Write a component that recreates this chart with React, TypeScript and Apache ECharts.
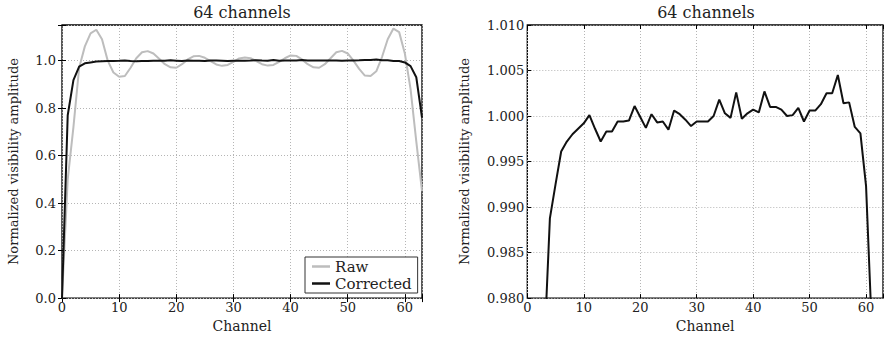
import React, { useEffect, useRef } from "react";
import * as echarts from "echarts";

const channels = [
  0, 1, 2, 3, 4, 5, 6, 7, 8, 9, 10, 11, 12, 13, 14, 15, 16, 17, 18, 19, 20, 21,
  22, 23, 24, 25, 26, 27, 28, 29, 30, 31, 32, 33, 34, 35, 36, 37, 38, 39, 40,
  41, 42, 43, 44, 45, 46, 47, 48, 49, 50, 51, 52, 53, 54, 55, 56, 57, 58, 59,
  60, 61, 62, 63,
];

const rawAmp = [
  0.0, 0.5, 0.72, 0.97, 1.06, 1.115, 1.13, 1.09, 1.0, 0.95, 0.932, 0.935, 0.97,
  1.01, 1.035, 1.04, 1.03, 1.008, 0.985, 0.972, 0.97, 0.985, 1.005, 1.018, 1.02,
  1.012, 0.998, 0.984, 0.978, 0.982, 0.995, 1.009, 1.013, 1.01, 0.998, 0.985,
  0.979, 0.982, 0.995, 1.01, 1.022, 1.02, 1.005, 0.985, 0.972, 0.97, 0.985, 1.01,
  1.035, 1.041, 1.03, 1.0, 0.965, 0.937, 0.935, 0.955, 1.015, 1.09, 1.135, 1.12,
  1.03, 0.88, 0.66, 0.45,
];

const correctedAmp = [
  0.0, 0.77, 0.918, 0.9744, 0.98875, 0.9925, 0.9961, 0.9972, 0.998, 0.9986,
  0.9992, 1.0001, 0.9986, 0.9972, 0.9983, 0.9983, 0.9994, 0.9994, 0.9995,
  1.0011, 0.9999, 0.9987, 1.0002, 0.9993, 0.9994, 0.9985, 1.0006, 1.0002,
  0.9996, 0.9989, 0.9994, 0.9994, 0.9994, 1.0, 1.0018, 1.0003, 0.9998, 1.0026,
  0.9997, 1.0003, 1.0007, 1.0004, 1.0027, 1.001, 1.001, 1.0007, 1.0, 1.0001,
  1.0009, 0.9994, 1.0006, 1.0006, 1.0013, 1.0025, 1.0025, 1.0045, 1.0014,
  1.0015, 0.9988, 0.9981, 0.9923, 0.9769, 0.93, 0.76,
];

const titleText = "64 channels";
const xName = "Channel";
const yName = "Normalized visibility amplitude";
const seriesNames = ["Raw", "Corrected"];

const FONT = "DejaVu Serif";
const TXT = "#222";

const pairs = (ys: number[]) => channels.map((c, i) => [c, ys[i]]);

const splitLine = {
  show: true,
  lineStyle: { color: "#b5b5b5", type: [1, 2], width: 1 },
};
const tick = { show: true, inside: true, length: 4, lineStyle: { color: "#000", width: 1 } };

function bottomX(gridIndex: number) {
  return {
    type: "value",
    gridIndex,
    min: 0,
    max: 63,
    interval: 10,
    name: xName,
    nameLocation: "middle",
    nameGap: 20,
    nameTextStyle: { fontFamily: FONT, fontSize: 14, color: TXT },
    axisLine: { show: false },
    axisTick: tick,
    axisLabel: {
      fontFamily: FONT,
      fontSize: 13,
      color: TXT,
      margin: 3,
      formatter: (v: number) => (v % 10 === 0 ? String(v) : ""),
    },
    splitLine,
  };
}
function topX(gridIndex: number) {
  return {
    type: "value",
    gridIndex,
    position: "top",
    min: 0,
    max: 63,
    interval: 10,
    axisLine: { show: false },
    axisTick: tick,
    axisLabel: { show: false },
    splitLine: { show: false },
  };
}

export default function App() {
  const ref = useRef<HTMLDivElement>(null);
  useEffect(() => {
    if (!ref.current) return;
    const chart = echarts.init(ref.current, undefined, { renderer: "svg" });
    const option = {
      animation: false,
      backgroundColor: "#fff",
      textStyle: { fontFamily: FONT },
      grid: [
        { left: 62, top: 25, width: 360, height: 274.3, show: true, borderColor: "#000", borderWidth: 1.3 },
        { left: 527.3, top: 25, width: 360.4, height: 274.3, show: true, borderColor: "#000", borderWidth: 1.3 },
      ],
      graphic: [
        {
          type: "text",
          x: 242,
          y: 4,
          style: { text: titleText, align: "center", verticalAlign: "top", fontFamily: FONT, fontSize: 16, fill: TXT },
        },
        {
          type: "text",
          x: 706,
          y: 4,
          style: { text: titleText, align: "center", verticalAlign: "top", fontFamily: FONT, fontSize: 16, fill: TXT },
        },
      ],
      legend: {
        data: seriesNames,
        orient: "vertical",
        left: 305,
        top: 257,
        icon: "rect",
        itemWidth: 18,
        itemHeight: 2.5,
        itemGap: 2,
        padding: [2, 6, 2, 7],
        borderColor: "#333",
        borderWidth: 1,
        borderRadius: 0,
        backgroundColor: "#fff",
        textStyle: { fontFamily: FONT, fontSize: 15, lineHeight: 15, color: TXT },
      },
      xAxis: [bottomX(0), topX(0), bottomX(1), topX(1)],
      yAxis: [
        {
          type: "value",
          gridIndex: 0,
          min: 0,
          max: 1.15,
          interval: 0.2,
          name: yName,
          nameLocation: "middle",
          nameGap: 42,
          nameTextStyle: { fontFamily: FONT, fontSize: 13, color: TXT },
          axisLine: { show: false },
          axisTick: tick,
          axisLabel: {
            fontFamily: FONT,
            fontSize: 13,
            color: TXT,
            margin: 6,
            formatter: (v: number) =>
              Math.abs(v * 5 - Math.round(v * 5)) < 1e-6 ? v.toFixed(1) : "",
          },
          splitLine,
        },
        {
          type: "value",
          gridIndex: 0,
          position: "right",
          min: 0,
          max: 1.15,
          interval: 0.2,
          axisLine: { show: false },
          axisTick: tick,
          axisLabel: { show: false },
          splitLine: { show: false },
        },
        {
          type: "value",
          gridIndex: 1,
          min: 0.98,
          max: 1.01,
          interval: 0.005,
          name: yName,
          nameLocation: "middle",
          nameGap: 56,
          nameTextStyle: { fontFamily: FONT, fontSize: 13, color: TXT },
          axisLine: { show: false },
          axisTick: tick,
          axisLabel: {
            fontFamily: FONT,
            fontSize: 13,
            color: TXT,
            margin: 3,
            formatter: (v: number) => v.toFixed(3),
          },
          splitLine,
        },
      ],
      series: [
        {
          name: seriesNames[0],
          type: "line",
          xAxisIndex: 0,
          yAxisIndex: 0,
          data: pairs(rawAmp),
          symbol: "none",
          lineStyle: { color: "#bdbdbd", width: 2 },
          itemStyle: { color: "#bdbdbd" },
          z: 2,
        },
        {
          name: seriesNames[1],
          type: "line",
          xAxisIndex: 0,
          yAxisIndex: 0,
          data: pairs(correctedAmp),
          symbol: "none",
          lineStyle: { color: "#111", width: 2 },
          itemStyle: { color: "#111" },
          z: 3,
        },
        {
          name: seriesNames[1],
          type: "line",
          xAxisIndex: 2,
          yAxisIndex: 2,
          data: pairs(correctedAmp),
          symbol: "none",
          lineStyle: { color: "#111", width: 2 },
          itemStyle: { color: "#111" },
          z: 3,
        },
      ],
    };
    chart.setOption(option as any);
    return () => chart.dispose();
  }, []);
  return (
    <div
      ref={ref}
      style={{ position: "fixed", left: 0, top: 0, width: 886, height: 338 }}
    />
  );
}
